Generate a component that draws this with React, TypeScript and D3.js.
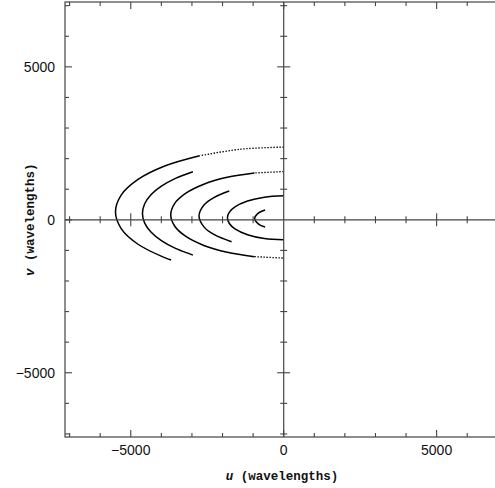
import React from "react";
import * as d3 from "d3";

// uv tracks: [u, v] in wavelengths
const trackA: [number, number][] = [
  [0, 2378], [-1424, 2306], [-2750, 2094], [-3889, 1758], [-4763, 1319], [-5313, 808],
  [-5500, 260], [-5313, -288], [-4763, -799], [-3889, -1238], [-3680, -1314],
];
const trackB: [number, number][] = [
  [-2968, 1572], [-3537, 1353], [-3999, 1099], [-4340, 818], [-4548, 519], [-4618, 210],
  [-4548, -99], [-4340, -398], [-3999, -679], [-3537, -933], [-2968, -1152],
];
const trackC: [number, number][] = [
  [0, 1578], [-956, 1530], [-1847, 1388], [-2611, 1164], [-3198, 871], [-3567, 529],
  [-3693, 163], [-3567, -203], [-3198, -545], [-2611, -838], [-1847, -1062], [-956, -1204], [0, -1252],
];
const trackD: [number, number][] = [
  [-1779, 942], [-2268, 736], [-2601, 490], [-2768, 125], [-2601, -240], [-2268, -486], [-1704, -715],
];
const trackE: [number, number][] = [
  [0, 784], [-629, 741], [-1183, 616], [-1593, 425], [-1777, 251], [-1840, 65],
  [-1777, -121], [-1593, -295], [-1183, -486], [-629, -611], [0, -654],
];
const trackF: [number, number][] = [
  [-609, 323], [-821, 226], [-948, 43], [-821, -140], [-609, -237],
];
const tracks = [trackA, trackB, trackC, trackD, trackE, trackF];
// number of sparse (dotted-looking) samples at the start / end of each track
const sparseHead = [2, 0, 1, 0, 0, 0];
const sparseTail = [0, 0, 1, 0, 0, 0];

const minorTicks = d3.range(-7000, 7001, 1000);
const majorTickLabels = [-5000, 0, 5000];
const xTitle = "(wavelengths)";
const yTitle = "(wavelengths)";

export default function App() {
  const W = 495, H = 488;
  const x = d3.scaleLinear().domain([-7150, 7150]).range([65, 502.4]);
  const y = d3.scaleLinear().domain([-7100, 7120]).range([437, 2]);
  const line = d3
    .line<[number, number]>()
    .x((d) => x(d[0]))
    .y((d) => y(d[1]))
    .curve(d3.curveCatmullRom.alpha(0.5));
  const [x0, x1] = x.range();
  const [y0, y1] = y.range();
  const axisColor = "#444";
  const isMajor = (t: number) => t % 5000 === 0;
  const len = (t: number) => (isMajor(t) ? 7 : 4);
  const clen = (t: number) => (isMajor(t) ? 6.5 : 3.5);
  const fontNum = "'Liberation Sans', Arial, sans-serif";
  const fontTitle = "'Liberation Mono', 'Courier New', monospace";

  return (
    <svg
      width={W}
      height={H}
      style={{ position: "absolute", left: 0, top: 0, background: "#fff" }}
    >
      <defs>
        <clipPath id="plot">
          <rect x={x0} y={y1} width={x1 - x0} height={y0 - y1} />
        </clipPath>
      </defs>
      {/* tracks */}
      <g clipPath="url(#plot)" fill="none" stroke="#000" strokeWidth={1.5}>
        {tracks.map((t, i) => {
          const h = sparseHead[i];
          const tl = sparseTail[i];
          const solid = t.slice(h, t.length - tl);
          return (
            <g key={i}>
              <path d={line(solid) || ""} />
              {h > 0 && (
                <path d={line(t.slice(0, h + 1)) || ""} strokeWidth={1.3} strokeDasharray="1.4 1.6" />
              )}
              {tl > 0 && (
                <path
                  d={line(t.slice(t.length - tl - 1)) || ""}
                  strokeWidth={1.3}
                  strokeDasharray="1.4 1.6"
                />
              )}
            </g>
          );
        })}
      </g>
      {/* frame */}
      <rect
        x={x0}
        y={y1}
        width={x1 - x0}
        height={y0 - y1}
        fill="none"
        stroke={axisColor}
        strokeWidth={1.2}
      />
      {/* center axes */}
      <line x1={x(0)} x2={x(0)} y1={y1} y2={y0} stroke={axisColor} strokeWidth={1.2} />
      <line x1={x0} x2={x1} y1={y(0)} y2={y(0)} stroke={axisColor} strokeWidth={1.2} />
      {/* ticks */}
      <g stroke={axisColor} strokeWidth={1.1}>
        {minorTicks.map((t) => (
          <g key={"x" + t}>
            <line x1={x(t)} x2={x(t)} y1={y0} y2={y0 - len(t)} />
            <line x1={x(t)} x2={x(t)} y1={y1} y2={y1 + len(t)} />
            {t !== 0 && (
              <line x1={x(t)} x2={x(t)} y1={y(0) - clen(t)} y2={y(0) + clen(t)} />
            )}
          </g>
        ))}
        {minorTicks.map((t) => (
          <g key={"y" + t}>
            <line x1={x0} x2={x0 + len(t)} y1={y(t)} y2={y(t)} />
            <line x1={x1} x2={x1 - len(t)} y1={y(t)} y2={y(t)} />
            {t !== 0 && (
              <line x1={x(0) - clen(t)} x2={x(0) + clen(t)} y1={y(t)} y2={y(t)} />
            )}
          </g>
        ))}
      </g>
      {/* tick labels */}
      <g fontFamily={fontNum} fontSize={14} fill="#111">
        {majorTickLabels.map((t) => (
          <text key={"xl" + t} x={x(t)} y={455} textAnchor="middle">
            {t < 0 ? "\u2212" + Math.abs(t) : String(t)}
          </text>
        ))}
        {majorTickLabels.map((t) => (
          <text key={"yl" + t} x={55} y={y(t)} dy="0.35em" textAnchor="end">
            {t < 0 ? "\u2212" + Math.abs(t) : String(t)}
          </text>
        ))}
      </g>
      {/* axis titles */}
      <text x={282} y={480} textAnchor="middle" fontFamily={fontTitle} fontSize={12.5} fontWeight="bold" fill="#111">
        <tspan fontStyle="italic">u</tspan>
        <tspan> {xTitle}</tspan>
      </text>
      <text
        transform={`translate(34,${y(0)}) rotate(-90)`}
        textAnchor="middle"
        fontFamily={fontTitle}
        fontSize={12.5}
        fontWeight="bold"
        fill="#111"
      >
        <tspan fontStyle="italic">v</tspan>
        <tspan> {yTitle}</tspan>
      </text>
    </svg>
  );
}
